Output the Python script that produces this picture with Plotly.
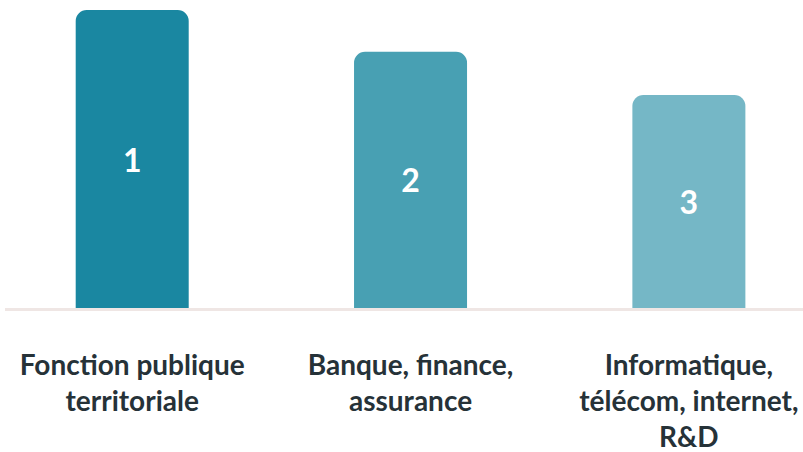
import plotly.graph_objects as go

# Sector ranking data
categories = [
    "Fonction publique<br>territoriale",
    "Banque, finance,<br>assurance",
    "Informatique,<br>télécom, internet,<br>R&D",
]
values = [100, 86, 71.5]
ranks = ["1", "2", "3"]
colors = ["#1a87a1", "#48a0b3", "#75b7c6"]

positions = list(range(len(categories)))

fig = go.Figure(
    go.Bar(
        x=positions,
        y=values,
        width=0.406,
        marker=dict(color=colors, line=dict(width=0)),
        text=ranks,
        textposition="inside",
        insidetextanchor="middle",
        textangle=0,
        textfont=dict(family="Lato", size=32, color="white", weight="bold"),
        hoverinfo="skip",
    )
)

fig.update_layout(
    width=803,
    height=452,
    margin=dict(l=5, r=0, t=10, b=144),
    paper_bgcolor="white",
    plot_bgcolor="white",
    barcornerradius=11,
    showlegend=False,
    xaxis=dict(
        range=[-0.457, 2.41],
        tickmode="array",
        tickvals=positions,
        ticktext=categories,
        tickfont=dict(family="Lato", size=28, color="#263238", weight="bold"),
        showgrid=False,
        zeroline=False,
        showline=True,
        linecolor="#efe6e4",
        linewidth=3,
        ticks="",
        ticklabelstandoff=30,
    ),
    yaxis=dict(
        range=[0, 100],
        visible=False,
        showgrid=False,
        zeroline=False,
    ),
)

fig.write_html("out.html")
